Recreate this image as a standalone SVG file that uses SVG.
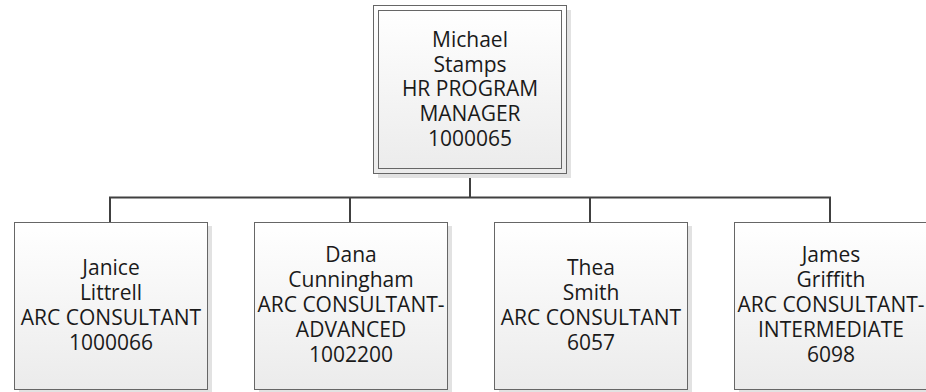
<svg xmlns="http://www.w3.org/2000/svg" width="926" height="392" viewBox="0 0 926 392">
  <defs>
    <linearGradient id="g" x1="0" y1="0" x2="0" y2="1">
      <stop offset="0" stop-color="#ffffff"/>
      <stop offset="1" stop-color="#ebebeb"/>
    </linearGradient>
    <style>
      .shadow { fill: #e2e2e2; }
      .box { fill: url(#g); stroke: #666666; stroke-width: 1; }
      .inner { fill: none; stroke: #666666; stroke-width: 1; }
      .conn { fill: none; stroke: #404040; stroke-width: 2; }
      text { font-family: "Open Sans", "DejaVu Sans", sans-serif; font-size: 21px; fill: #1a1a1a; text-anchor: middle; }
    </style>
  </defs>
  <rect width="926" height="392" fill="#ffffff"/>
  <g id="connectors">
    <path class="conn" d="M470 173 V197.5 M110 197.5 H830 M110 196.5 V222 M350 197.5 V222 M590 197.5 V222 M830 196.5 V222"/>
  </g>
  <g id="node-michael">
    <rect class="shadow" x="378" y="10" width="193" height="168"/>
    <rect class="box" x="373.5" y="5.5" width="193" height="168"/>
    <rect class="inner" x="378.5" y="10.5" width="183" height="158"/>
    <text x="470" y="47">Michael</text>
    <text x="470" y="72">Stamps</text>
    <text x="470" y="96">HR PROGRAM</text>
    <text x="470" y="121">MANAGER</text>
    <text x="470" y="146">1000065</text>
  </g>
  <g id="node-janice">
    <rect class="shadow" x="19" y="226" width="193" height="167"/>
    <rect class="box" x="14.5" y="222.5" width="193" height="167"/>
    <text x="111" y="275">Janice</text>
    <text x="111" y="300">Littrell</text>
    <text x="111" y="325">ARC CONSULTANT</text>
    <text x="111" y="350">1000066</text>
  </g>
  <g id="node-dana">
    <rect class="shadow" x="259" y="226" width="193" height="167"/>
    <rect class="box" x="254.5" y="222.5" width="193" height="167"/>
    <text x="351" y="262">Dana</text>
    <text x="351" y="287">Cunningham</text>
    <text x="351" y="312">ARC CONSULTANT-</text>
    <text x="351" y="337">ADVANCED</text>
    <text x="351" y="362">1002200</text>
  </g>
  <g id="node-thea">
    <rect class="shadow" x="499" y="226" width="193" height="167"/>
    <rect class="box" x="494.5" y="222.5" width="193" height="167"/>
    <text x="591" y="275">Thea</text>
    <text x="591" y="300">Smith</text>
    <text x="591" y="325">ARC CONSULTANT</text>
    <text x="591" y="350">6057</text>
  </g>
  <g id="node-james">
    <rect class="shadow" x="739" y="226" width="193" height="167"/>
    <rect class="box" x="734.5" y="222.5" width="193" height="167"/>
    <text x="831" y="262">James</text>
    <text x="831" y="287">Griffith</text>
    <text x="831" y="312">ARC CONSULTANT-</text>
    <text x="831" y="337">INTERMEDIATE</text>
    <text x="831" y="362">6098</text>
  </g>
</svg>
